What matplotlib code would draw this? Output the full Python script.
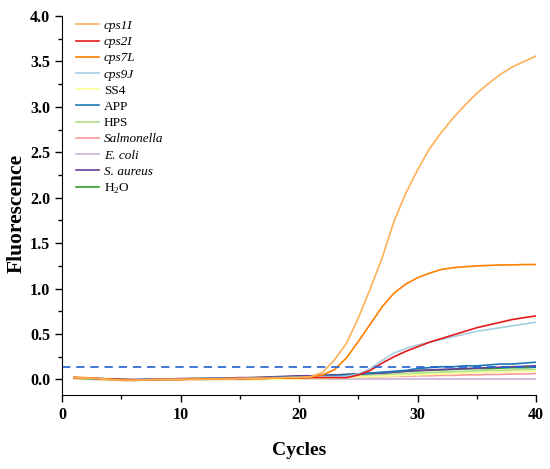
import matplotlib
matplotlib.use("Agg")
import matplotlib.pyplot as plt
from matplotlib.ticker import MultipleLocator

plt.rcParams['font.family'] = ['Liberation Serif', 'DejaVu Serif']
plt.rcParams['mathtext.fontset'] = 'custom'
plt.rcParams['mathtext.rm'] = 'Liberation Serif'

cycles = list(range(1, 41))

# fluorescence per cycle
cps1I = [0.02, 0.015, 0.01, 0.0, -0.01, -0.01, -0.005, 0.0, 0.0, 0.0,
         0.0, 0.0, 0.005, 0.005, 0.01, 0.01, 0.01, 0.015, 0.02, 0.02,
         0.03, 0.08, 0.22, 0.40, 0.68, 1.00, 1.34, 1.74, 2.05, 2.31,
         2.54, 2.72, 2.88, 3.02, 3.15, 3.26, 3.36, 3.44, 3.50, 3.56]
cps2I = [0.02, 0.015, 0.01, 0.005, 0.0, -0.005, -0.005, 0.0, 0.0, 0.0,
         0.005, 0.005, 0.005, 0.01, 0.01, 0.01, 0.01, 0.015, 0.015, 0.015,
         0.02, 0.02, 0.02, 0.02, 0.05, 0.10, 0.18, 0.25, 0.31, 0.36,
         0.41, 0.45, 0.49, 0.53, 0.57, 0.60, 0.63, 0.66, 0.68, 0.70]
cps7L = [0.025, 0.02, 0.01, 0.0, -0.005, -0.01, -0.005, 0.0, 0.0, 0.0,
         0.005, 0.005, 0.005, 0.01, 0.01, 0.01, 0.015, 0.015, 0.02, 0.02,
         0.03, 0.05, 0.11, 0.24, 0.42, 0.61, 0.80, 0.95, 1.05, 1.12,
         1.17, 1.21, 1.23, 1.24, 1.25, 1.255, 1.26, 1.26, 1.265, 1.265]
cps9J = [0.02, 0.015, 0.01, 0.005, 0.0, -0.005, -0.005, 0.0, 0.0, 0.005,
         0.005, 0.005, 0.01, 0.01, 0.01, 0.015, 0.015, 0.02, 0.02, 0.025,
         0.025, 0.03, 0.03, 0.035, 0.06, 0.12, 0.21, 0.29, 0.34, 0.38,
         0.41, 0.44, 0.47, 0.50, 0.53, 0.55, 0.57, 0.59, 0.61, 0.63]
ss4 = [0.01, 0.005, 0.0, -0.005, -0.01, -0.01, -0.01, -0.005, -0.005, 0.0,
       0.0, 0.0, -0.005, 0.0, 0.0, -0.005, 0.0, 0.0, 0.005, 0.005,
       0.01, 0.01, 0.015, 0.02, 0.025, 0.03, 0.035, 0.04, 0.045, 0.05,
       0.055, 0.06, 0.065, 0.07, 0.075, 0.08, 0.08, 0.085, 0.09, 0.09]
app = [0.02, 0.015, 0.01, 0.005, 0.0, -0.005, 0.0, 0.0, 0.005, 0.005,
       0.005, 0.01, 0.01, 0.01, 0.005, 0.015, 0.02, 0.02, 0.025, 0.03,
       0.03, 0.035, 0.04, 0.05, 0.06, 0.07, 0.08, 0.09, 0.10, 0.12,
       0.13, 0.14, 0.14, 0.15, 0.15, 0.16, 0.17, 0.17, 0.18, 0.19]
hps = [0.015, 0.01, 0.005, 0.0, -0.005, -0.01, -0.005, 0.0, 0.0, 0.0,
       0.005, 0.005, 0.005, 0.01, 0.01, 0.01, 0.015, 0.015, 0.02, 0.02,
       0.025, 0.03, 0.035, 0.04, 0.045, 0.05, 0.055, 0.06, 0.065, 0.07,
       0.075, 0.08, 0.085, 0.09, 0.095, 0.10, 0.10, 0.105, 0.11, 0.11]
salmonella = [0.01, 0.005, 0.0, -0.005, -0.01, -0.01, -0.005, -0.005, 0.0, 0.0,
              0.0, 0.0, 0.0, 0.005, 0.005, 0.005, 0.005, 0.01, 0.01, 0.01,
              0.015, 0.015, 0.02, 0.02, 0.025, 0.025, 0.03, 0.035, 0.035, 0.04,
              0.04, 0.045, 0.045, 0.05, 0.05, 0.055, 0.055, 0.06, 0.06, 0.065]
ecoli = [0.01, 0.005, 0.0, -0.005, -0.01, -0.01, -0.01, -0.005, -0.005, -0.005,
         0.0, 0.0, 0.0, 0.0, 0.0, 0.0, 0.0, 0.005, 0.005, 0.005,
         0.005, 0.005, 0.005, 0.005, 0.005, 0.005, 0.005, 0.005, 0.005, 0.005,
         0.005, 0.005, 0.005, 0.005, 0.005, 0.005, 0.005, 0.005, 0.005, 0.005]
saureus = [0.02, 0.015, 0.01, 0.005, 0.0, 0.0, 0.0, 0.005, 0.005, 0.01,
           0.01, 0.01, 0.015, 0.015, 0.02, 0.02, 0.025, 0.03, 0.035, 0.04,
           0.04, 0.045, 0.05, 0.055, 0.06, 0.065, 0.07, 0.08, 0.09, 0.10,
           0.105, 0.11, 0.115, 0.12, 0.125, 0.13, 0.135, 0.14, 0.145, 0.15]
h2o = [0.015, 0.01, 0.005, 0.0, -0.005, -0.005, 0.0, 0.0, 0.005, 0.005,
       0.01, 0.01, 0.01, 0.015, 0.015, 0.02, 0.02, 0.025, 0.03, 0.035,
       0.04, 0.045, 0.05, 0.055, 0.06, 0.07, 0.075, 0.08, 0.09, 0.095,
       0.10, 0.105, 0.11, 0.115, 0.12, 0.12, 0.125, 0.13, 0.13, 0.135]
threshold = 0.14

labels = ['cps1I', 'cps2I', 'cps7L', 'cps9J', 'SS4', 'APP', 'HPS',
          'Salmonella', 'E. coli', 'S. aureus', 'H$_2$O']
italic = [True, True, True, True, False, False, False, True, True, True, False]
series = [cps1I, cps2I, cps7L, cps9J, ss4, app, hps, salmonella, ecoli, saureus, h2o]
colors = ['#FDB055', '#E31A1C', '#FF7F00', '#A6CEE3', '#FFFF99', '#1F78B4',
          '#B2DF8A', '#FB9A99', '#CAB2D6', '#6A3D9A', '#33A02C']

fig = plt.figure(figsize=(5.5, 4.69), dpi=100)
ax = fig.add_axes([0.113, 0.158, 0.862, 0.808])

# draw low curves first so the amplified ones sit on top
for idx in [8, 7, 4, 6, 10, 9, 5, 3, 1, 2, 0]:
    ax.plot(cycles, series[idx], color=colors[idx], lw=1.2, label=labels[idx])
ax.plot([0, 40], [threshold, threshold], color='#2060D0', lw=1.2, ls=(0, (5, 3.5)))

handles, labs = ax.get_legend_handles_labels()
order = [labs.index(l) for l in labels]
leg = ax.legend([handles[i] for i in order], labels, loc='upper left', frameon=False,
                fontsize=9.5, handlelength=1.75, labelspacing=0.3, handletextpad=0.35,
                borderaxespad=0.0, borderpad=0.0, bbox_to_anchor=(0.03, 0.99))
for t, it in zip(leg.get_texts(), italic):
    if it:
        t.set_fontstyle('italic')

ax.set_xlim(0, 40)
ax.set_ylim(-0.17, 4.0)
ax.xaxis.set_major_locator(MultipleLocator(10))
ax.xaxis.set_minor_locator(MultipleLocator(5))
ax.yaxis.set_major_locator(MultipleLocator(0.5))
ax.yaxis.set_minor_locator(MultipleLocator(0.25))
ax.spines['top'].set_visible(False)
ax.spines['right'].set_visible(False)
ax.tick_params(which='both', direction='out', width=1)
ax.tick_params(which='major', length=5, labelsize=11.5)
ax.tick_params(which='minor', length=3)
for lab in ax.get_xticklabels() + ax.get_yticklabels():
    lab.set_fontweight('bold')
ax.set_xlabel('Cycles', fontsize=14, fontweight='bold')
ax.set_ylabel('Fluorescence', fontsize=15.5, fontweight='bold')
ax.xaxis.set_label_coords(0.5, -0.125)
ax.yaxis.set_label_coords(-0.074, 0.48)

fig.savefig('out.png', dpi=100)
